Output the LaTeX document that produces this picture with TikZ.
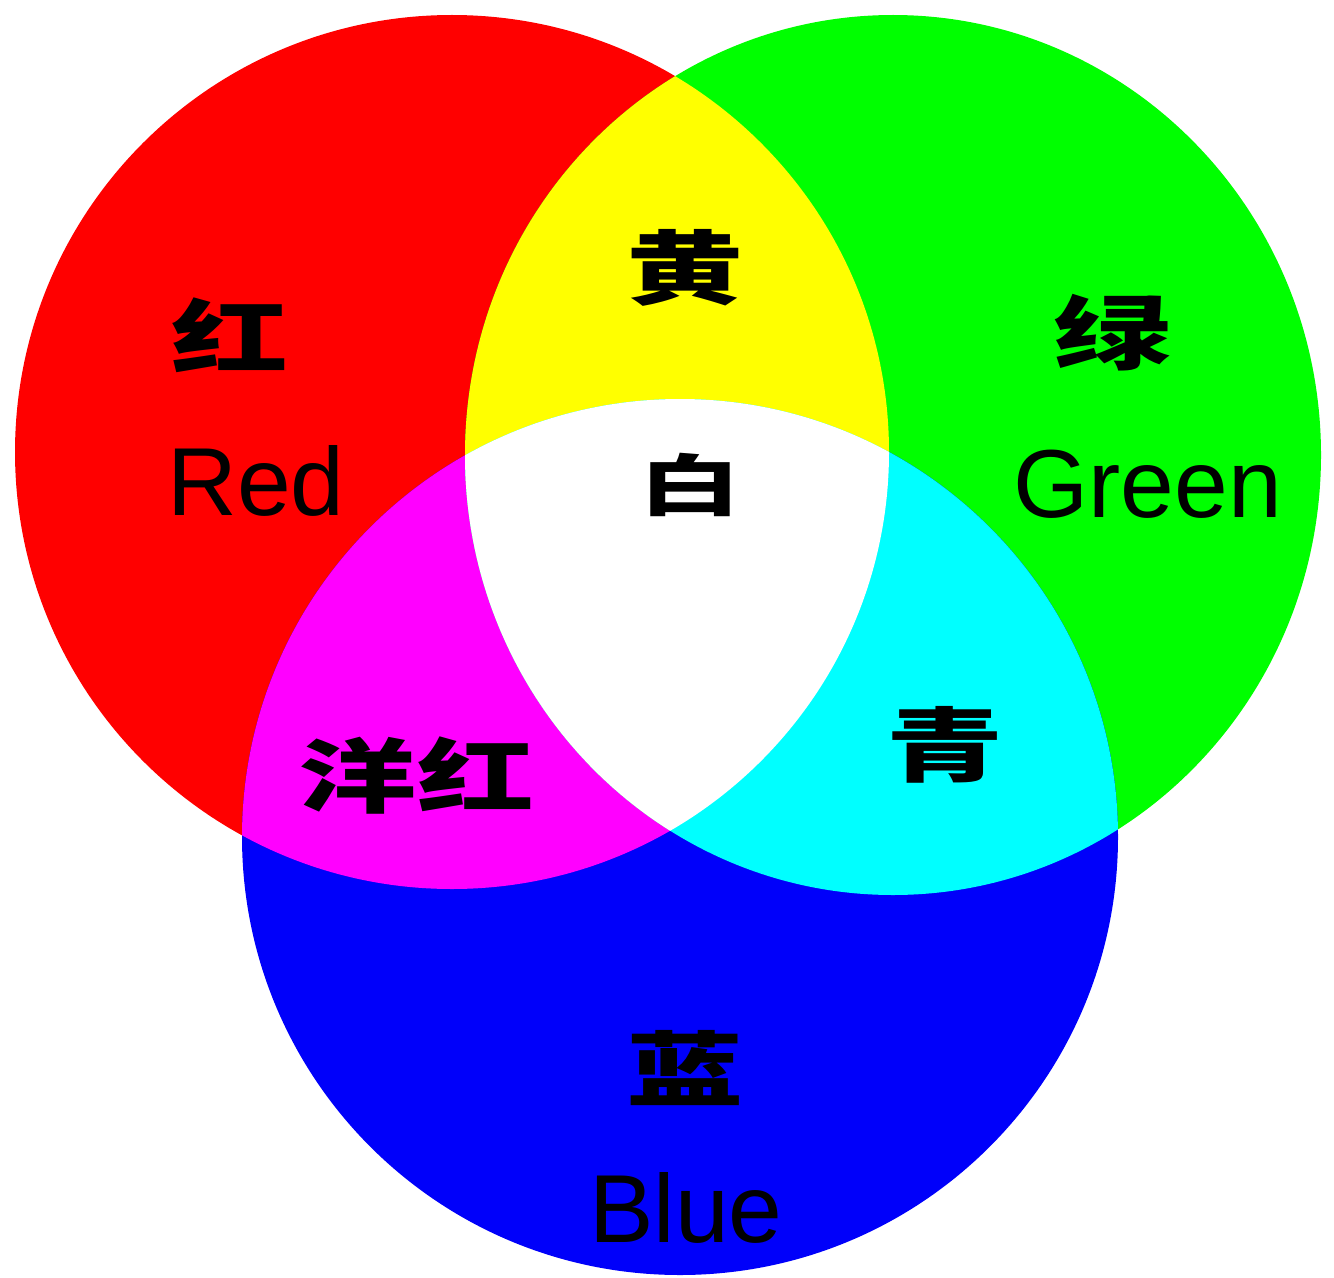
\documentclass[tikz,border=0pt]{standalone}
\usepackage{fontspec}
\setmainfont{Liberation Sans}
\newfontfamily\cjk{Noto Sans CJK SC}
\usepackage{tikz}
\definecolor{hong}{RGB}{255,0,0}
\definecolor{lv}{RGB}{0,255,0}
\definecolor{lan}{RGB}{0,0,250}
\definecolor{huang}{RGB}{255,255,0}
\definecolor{yanghong}{RGB}{255,0,255}
\definecolor{qing}{RGB}{0,255,255}

\begin{document}
\begin{tikzpicture}[x=0.02cm,y=-0.02cm,
  zi/.style={font=\cjk\bfseries\fontsize{46}{46}\selectfont,xscale=1.45,inner sep=0pt},
  en/.style={font=\fontsize{55}{55}\selectfont,inner sep=0pt,anchor=base west}]
  \useasboundingbox (0,0) rectangle (1334,1277);
  \coordinate (r) at (452,452);
  \coordinate (g) at (893,455);
  \coordinate (b) at (680,837);
  \fill[hong] (r) circle[radius=437];
  \fill[lv] (g) ellipse[x radius=428,y radius=440];
  \fill[lan] (b) circle[radius=438];
  \begin{scope}
    \clip (r) circle[radius=437];
    \fill[yanghong] (b) circle[radius=438];
    \fill[huang] (g) ellipse[x radius=428,y radius=440];
  \end{scope}
  \begin{scope}
    \clip (g) ellipse[x radius=428,y radius=440];
    \fill[qing] (b) circle[radius=438];
  \end{scope}
  \begin{scope}
    \clip (r) circle[radius=437];
    \clip (g) ellipse[x radius=428,y radius=440];
    \fill[white] (b) circle[radius=438];
  \end{scope}
  \node[zi] (hong) at (230,335) {红};
  \node[zi] (huang) at (685,268) {黄};
  \node[zi] (lv) at (1112,333) {绿};
  \node[zi,font=\cjk\bfseries\fontsize{38}{38}\selectfont,xscale=1.05] (bai) at (690,485) {白};
  \node[zi] (yanghong) at (417,775) {洋红};
  \node[zi] (qing) at (945,745) {青};
  \node[zi] (lan) at (685,1068) {蓝};
  \node[en] (redt) at (167,515) {Red};
  \node[en] (greent) at (1013,517) {Green};
  \node[en] (bluet) at (589,1242) {Blue};
\end{tikzpicture}
\end{document}
